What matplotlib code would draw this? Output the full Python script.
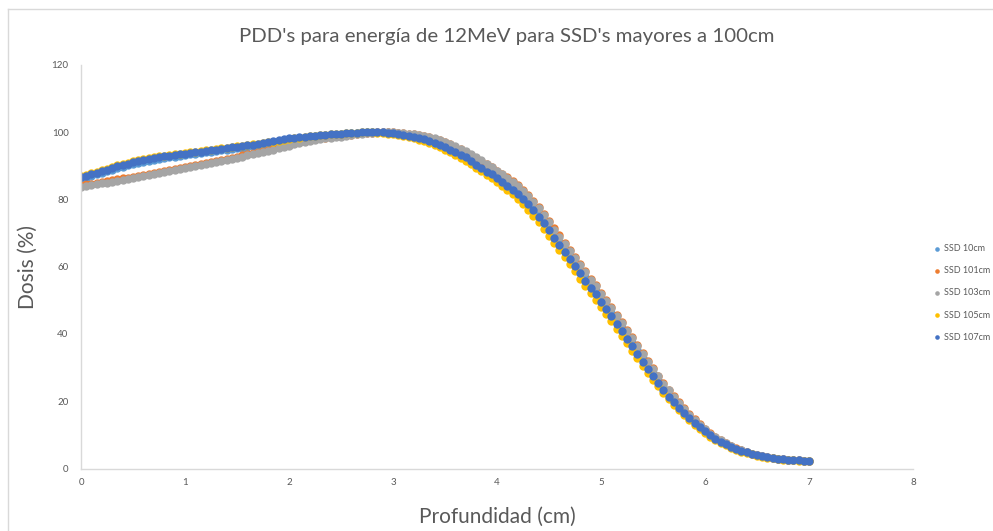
import numpy as np
import matplotlib.pyplot as plt
from matplotlib.lines import Line2D

plt.rcParams['font.family'] = ['Lato', 'DejaVu Sans']

# profundidad del barrido (cm), paso de 0.05
depth = np.round(np.arange(0, 7.001, 0.05), 2)

# dosis relativa (%) para cada SSD
ssd_10 = [
    86.1, 86.5, 87.0, 87.5, 87.9, 88.4, 88.9, 89.4, 89.8, 90.2,
    90.6, 90.9, 91.2, 91.5, 91.8, 92.1, 92.3, 92.5, 92.7, 93.0,
    93.2, 93.4, 93.6, 93.8, 94.0, 94.2, 94.4, 94.6, 94.8, 95.0,
    95.2, 95.4, 95.6, 95.9, 96.1, 96.3, 96.6, 96.9, 97.2, 97.5,
    97.8, 98.0, 98.2, 98.4, 98.6, 98.8, 98.9, 99.1, 99.2, 99.3,
    99.5, 99.6, 99.7, 99.8, 99.9, 100.0, 100.1, 100.1, 100.0, 100.0,
    99.9, 99.7, 99.5, 99.3, 99.0, 98.7, 98.3, 97.8, 97.3, 96.7,
    96.1, 95.4, 94.7, 93.9, 93.1, 92.2, 91.2, 90.2, 89.2, 88.2,
    87.2, 86.1, 85.0, 83.8, 82.6, 81.2, 79.6, 77.9, 76.0, 74.0,
    71.9, 69.7, 67.5, 65.4, 63.3, 61.3, 59.1, 57.0, 54.9, 52.8,
    50.6, 48.5, 46.3, 44.1, 41.9, 39.6, 37.4, 35.1, 32.8, 30.6,
    28.4, 26.3, 24.2, 22.3, 20.5, 18.8, 17.2, 15.5, 14.1, 12.7,
    11.5, 10.2, 9.1, 8.2, 7.4, 6.6, 5.9, 5.4, 4.9, 4.4,
    4.0, 3.7, 3.4, 3.1, 2.9, 2.7, 2.6, 2.5, 2.4, 2.3,
    2.3,
]
ssd_101 = [
    84.2, 84.5, 84.7, 85.0, 85.2, 85.5, 85.7, 86.0, 86.3, 86.5,
    86.8, 87.1, 87.4, 87.6, 87.9, 88.2, 88.5, 88.8, 89.1, 89.4,
    89.7, 90.0, 90.3, 90.6, 90.9, 91.2, 91.5, 91.8, 92.1, 92.4,
    92.7, 93.1, 93.5, 93.8, 94.2, 94.5, 94.8, 95.2, 95.6, 96.0,
    96.4, 96.8, 97.1, 97.4, 97.7, 97.9, 98.2, 98.4, 98.6, 98.8,
    98.9, 99.1, 99.3, 99.5, 99.7, 99.8, 99.9, 100.0, 100.1, 100.1,
    100.0, 99.9, 99.8, 99.6, 99.4, 99.1, 98.8, 98.5, 98.1, 97.6,
    97.0, 96.4, 95.7, 95.0, 94.2, 93.3, 92.4, 91.5, 90.5, 89.6,
    88.6, 87.6, 86.6, 85.5, 84.3, 82.8, 81.2, 79.6, 77.7, 75.8,
    73.6, 71.4, 69.3, 67.2, 65.1, 63.0, 60.8, 58.6, 56.5, 54.5,
    52.2, 50.1, 47.9, 45.7, 43.5, 41.3, 39.0, 36.7, 34.4, 32.1,
    29.8, 27.6, 25.5, 23.4, 21.5, 19.7, 17.9, 16.2, 14.6, 13.1,
    11.8, 10.5, 9.4, 8.4, 7.6, 6.7, 6.0, 5.4, 4.9, 4.4,
    4.0, 3.7, 3.4, 3.1, 2.9, 2.7, 2.6, 2.5, 2.4, 2.3,
    2.3,
]
ssd_103 = [
    83.8, 84.0, 84.3, 84.5, 84.8, 85.0, 85.3, 85.6, 85.8, 86.1,
    86.4, 86.6, 86.9, 87.2, 87.5, 87.8, 88.1, 88.4, 88.7, 89.0,
    89.3, 89.6, 89.9, 90.2, 90.5, 90.8, 91.1, 91.4, 91.7, 92.0,
    92.3, 92.7, 93.1, 93.5, 93.8, 94.1, 94.5, 94.8, 95.2, 95.6,
    96.0, 96.5, 96.8, 97.1, 97.4, 97.7, 97.9, 98.2, 98.4, 98.6,
    98.7, 98.9, 99.2, 99.4, 99.6, 99.8, 99.9, 100.0, 100.1, 100.1,
    100.0, 99.9, 99.8, 99.6, 99.4, 99.2, 98.9, 98.6, 98.2, 97.8,
    97.2, 96.6, 95.9, 95.1, 94.3, 93.4, 92.5, 91.6, 90.6, 89.6,
    88.6, 87.5, 86.4, 85.3, 84.1, 82.5, 81.0, 79.3, 77.4, 75.5,
    73.3, 71.0, 68.9, 66.8, 64.7, 62.7, 60.4, 58.3, 56.2, 54.2,
    51.9, 49.8, 47.6, 45.4, 43.2, 41.0, 38.7, 36.4, 34.1, 31.8,
    29.5, 27.4, 25.2, 23.2, 21.3, 19.5, 17.8, 16.0, 14.5, 13.0,
    11.7, 10.4, 9.3, 8.4, 7.5, 6.7, 5.9, 5.4, 4.8, 4.4,
    4.0, 3.6, 3.3, 3.1, 2.9, 2.7, 2.6, 2.5, 2.4, 2.3,
    2.3,
]
ssd_105 = [
    87.0, 87.4, 87.9, 88.3, 88.8, 89.2, 89.7, 90.2, 90.6, 90.9,
    91.3, 91.7, 92.0, 92.3, 92.5, 92.8, 93.0, 93.2, 93.4, 93.6,
    93.8, 94.0, 94.2, 94.4, 94.6, 94.8, 95.0, 95.2, 95.4, 95.6,
    95.8, 96.0, 96.2, 96.4, 96.6, 96.8, 97.0, 97.2, 97.5, 97.8,
    98.0, 98.2, 98.4, 98.6, 98.8, 99.0, 99.1, 99.3, 99.4, 99.5,
    99.6, 99.7, 99.8, 99.9, 100.0, 100.0, 100.0, 99.9, 99.8, 99.6,
    99.4, 99.2, 98.9, 98.6, 98.2, 97.8, 97.3, 96.8, 96.2, 95.5,
    94.8, 94.0, 93.2, 92.4, 91.5, 90.5, 89.5, 88.4, 87.4, 86.4,
    85.3, 84.1, 82.8, 81.5, 80.1, 78.6, 77.0, 75.2, 73.3, 71.3,
    69.2, 67.1, 64.9, 62.8, 60.7, 58.6, 56.5, 54.4, 52.3, 50.2,
    48.1, 46.0, 43.8, 41.6, 39.4, 37.2, 35.0, 32.8, 30.6, 28.5,
    26.4, 24.4, 22.5, 20.7, 19.0, 17.4, 15.9, 14.4, 13.0, 11.8,
    10.6, 9.5, 8.5, 7.6, 6.9, 6.2, 5.6, 5.0, 4.6, 4.2,
    3.8, 3.5, 3.2, 3.0, 2.8, 2.6, 2.5, 2.4, 2.3, 2.2,
    2.2,
]
ssd_107 = [
    86.6, 86.9, 87.5, 88.0, 88.4, 88.9, 89.5, 90.0, 90.4, 90.7,
    91.1, 91.5, 91.8, 92.0, 92.3, 92.5, 92.8, 93.0, 93.2, 93.4,
    93.6, 93.8, 94.0, 94.2, 94.4, 94.6, 94.8, 95.1, 95.3, 95.5,
    95.7, 95.9, 96.1, 96.3, 96.6, 96.8, 97.0, 97.3, 97.6, 97.9,
    98.2, 98.4, 98.6, 98.7, 98.9, 99.0, 99.2, 99.3, 99.4, 99.5,
    99.6, 99.7, 99.8, 99.9, 100.0, 100.1, 100.1, 100.1, 100.0, 99.9,
    99.7, 99.5, 99.3, 99.0, 98.7, 98.3, 97.9, 97.4, 96.8, 96.2,
    95.5, 94.8, 94.0, 93.3, 92.5, 91.5, 90.4, 89.3, 88.3, 87.5,
    86.5, 85.3, 84.1, 82.9, 81.7, 80.2, 78.6, 76.9, 74.9, 73.0,
    70.8, 68.5, 66.4, 64.3, 62.2, 60.3, 58.0, 55.9, 53.8, 51.8,
    49.5, 47.4, 45.3, 43.0, 40.8, 38.6, 36.3, 34.1, 31.8, 29.6,
    27.4, 25.4, 23.3, 21.4, 19.7, 18.1, 16.6, 14.9, 13.6, 12.3,
    11.1, 9.9, 8.8, 8.0, 7.3, 6.5, 5.8, 5.3, 4.8, 4.4,
    4.0, 3.6, 3.3, 3.1, 2.9, 2.7, 2.6, 2.5, 2.4, 2.3,
    2.2,
]

labels = ['SSD 10cm', 'SSD 101cm', 'SSD 103cm', 'SSD 105cm', 'SSD 107cm']
colors = ['#5B9BD5', '#ED7D31', '#A5A5A5', '#FFC000', '#4472C4']
series = [ssd_10, ssd_101, ssd_103, ssd_105, ssd_107]

fig = plt.figure(figsize=(9.93, 5.31), dpi=100)
ax = fig.add_axes([0.0816, 0.1177, 0.8378, 0.7599])

for dose, lab, col in zip(series, labels, colors):
    ax.scatter(depth, dose, s=36, color=col, linewidths=0, label=lab)

ax.set_xlim(0, 8)
ax.set_ylim(0, 120)
ax.set_xticks(range(0, 9))
ax.set_yticks(range(0, 121, 20))
ax.tick_params(length=0, labelsize=7, colors='#595959')
ax.tick_params(axis='x', pad=7)
ax.tick_params(axis='y', pad=9)

for side in ['top', 'right']:
    ax.spines[side].set_visible(False)
for side in ['left', 'bottom']:
    ax.spines[side].set_color('#D9D9D9')
    ax.spines[side].set_linewidth(1)

ax.set_xlabel('Profundidad (cm)', fontsize=15, color='#595959')
ax.set_ylabel('Dosis (%)', fontsize=15, color='#595959')
ax.xaxis.set_label_coords(0.5, -0.095)
ax.yaxis.set_label_coords(-0.052, 0.5)

fig.text(0.51, 0.932, "PDD's para energía de 12MeV para SSD's mayores a 100cm",
         ha='center', va='center', fontsize=14.7, color='#595959')

leg = ax.legend(loc='center left', bbox_to_anchor=(1.018, 0.435), frameon=False,
                fontsize=6.5, handletextpad=-0.2, labelspacing=1.45,
                markerscale=0.55, borderaxespad=0, borderpad=0,
                labelcolor='#595959')

# marco del gráfico
fig.add_artist(Line2D([8 / 993, 1], [1 - 9 / 531, 1 - 9 / 531], color='#D9D9D9', lw=1))
fig.add_artist(Line2D([8 / 993, 8 / 993], [0, 1 - 9 / 531], color='#D9D9D9', lw=1))

fig.savefig('out.png', dpi=100)
